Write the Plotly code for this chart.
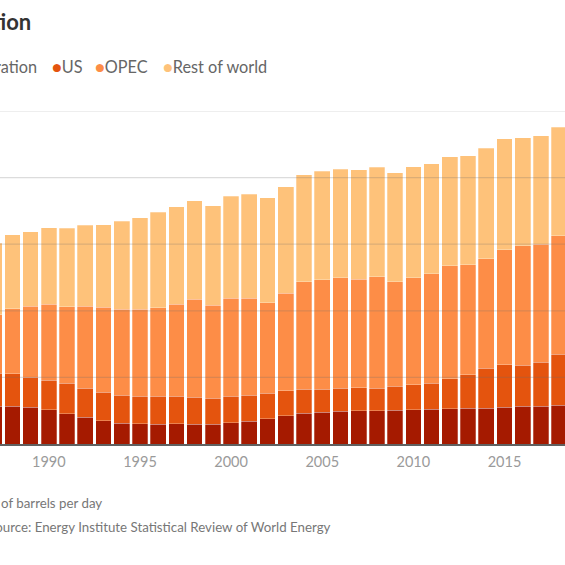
import plotly.graph_objects as go

# ---- data (million barrels per day) ----
years = list(range(1987, 2019))
russia = [11.3, 11.3, 11.0, 10.3, 9.1, 8.0, 7.0, 6.3, 6.1, 5.9,
          6.1, 5.9, 5.9, 6.4, 6.9, 7.6, 8.5, 9.3, 9.5, 9.8,
          10.0, 10.0, 10.1, 10.3, 10.5, 10.6, 10.8, 10.8, 11.1, 11.3,
          11.3, 11.6]
us = [10.0, 9.8, 9.1, 8.8, 9.2, 8.8, 8.6, 8.4, 8.3, 8.5,
      8.2, 8.1, 7.9, 7.9, 7.8, 7.7, 7.5, 7.2, 7.0, 6.9,
      6.9, 6.7, 7.2, 7.5, 7.8, 9.0, 10.0, 11.9, 12.7, 12.3,
      13.2, 15.3]
opec = [17.5, 19.5, 21.2, 22.9, 22.9, 24.6, 25.4, 25.8, 26.1, 26.5,
        27.6, 29.4, 27.8, 29.4, 29.0, 27.1, 29.3, 32.2, 32.9, 33.2,
        32.6, 33.5, 31.4, 32.1, 32.8, 34.0, 33.1, 33.0, 34.6, 35.9,
        35.5, 35.7]
rest_of_world = [21.5, 22.2, 22.4, 23.0, 23.6, 24.3, 24.9, 26.4, 27.4, 28.7,
                 29.3, 29.6, 30.0, 30.7, 31.3, 31.6, 31.9, 32.2, 32.5, 32.6,
                 32.9, 32.9, 32.7, 33.3, 33.0, 32.6, 32.7, 33.1, 33.3, 32.5,
                 32.6, 32.5]
series_names = ["Russian Federation", "US", "OPEC", "Rest of world"]
tick_years = [1990, 1995, 2000, 2005, 2010, 2015]
grid_values = [20, 40, 60, 80, 100]

title_text = "Global oil production"
unit_text = "Millions of barrels per day"
source_text = "Source: Energy Institute Statistical Review of World Energy"

colors = ["#a51a00", "#e4540e", "#fd8d47", "#fec27a"]
FONT = "Lato, sans-serif"

W, H = 565, 565
T, B = 111, 121
plot_h = H - T - B


def px(x):
    return x / W


def py(y):
    return (H - B - y) / plot_h


fig = go.Figure()
for name, vals, col in zip(series_names, [russia, us, opec, rest_of_world], colors):
    fig.add_trace(go.Bar(
        x=years, y=vals, name=name,
        marker=dict(color=col, line=dict(width=0.6, color="rgba(255,255,255,0.45)")),
        showlegend=False,
    ))

for g in grid_values:
    fig.add_shape(type="line", xref="paper", x0=0, x1=1, yref="y", y0=g, y1=g,
                  line=dict(color="rgba(110,110,110,0.24)", width=1.2), layer="above")

annotations = []
annotations.append(dict(text="<b>" + title_text + "</b>", x=px(33), y=py(21),
                        xanchor="right", yanchor="middle",
                        font=dict(size=22, color="#333333", family=FONT)))

# legend built from text annotations
legend_font = dict(size=16.3, color="#666666", family=FONT)
annotations.append(dict(text=f'<span style="color:{colors[0]}">●</span> ' + series_names[0],
                        x=px(39), y=py(66), xanchor="right", yanchor="middle", font=legend_font))
legend_left = [50, 93, 161]
for i, xl in enumerate(legend_left):
    annotations.append(dict(text=f'<span style="color:{colors[i + 1]}">●</span>' + series_names[i + 1],
                            x=px(xl), y=py(66), xanchor="left", yanchor="middle", font=legend_font))

annotations.append(dict(text=unit_text, x=px(104), y=py(503), xanchor="right", yanchor="middle",
                        font=dict(size=13.3, color="#777777", family=FONT)))
annotations.append(dict(text=source_text, x=px(333), y=py(527), xanchor="right", yanchor="middle",
                        font=dict(size=13.3, color="#777777", family=FONT)))

for a in annotations:
    a.update(xref="paper", yref="paper", showarrow=False)

fig.update_layout(
    width=W, height=H,
    margin=dict(l=0, r=0, t=T, b=B),
    barmode="stack", bargap=0.14,
    plot_bgcolor="white", paper_bgcolor="white",
    annotations=annotations,
    xaxis=dict(range=[1987.32, 2018.32], tickvals=tick_years, ticks="",
               tickfont=dict(size=14.5, color="#9a9a9a", family=FONT),
               showgrid=False, showline=True, linecolor="#606060", linewidth=1.5,
               zeroline=False, ticklabelstandoff=4),
    yaxis=dict(range=[0, 100], showgrid=False, zeroline=False, showticklabels=False,
               showline=False),
)

fig.write_html("out.html", config={"displayModeBar": False},
               post_script="document.body.style.margin='0';")
